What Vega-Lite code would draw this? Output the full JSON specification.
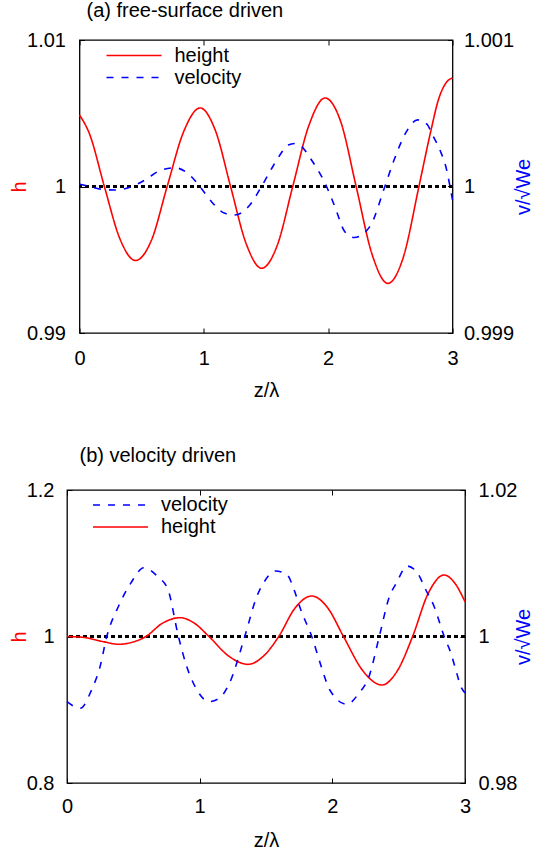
{
  "$schema": "https://vega.github.io/schema/vega-lite/v6.json",
  "padding": {"left": 8, "top": 0, "right": 0, "bottom": 0},
  "background": "white",
  "config": {
    "font": "Liberation Sans",
    "view": {"stroke": "black", "strokeWidth": 1.3},
    "axis": {"labelFontSize": 20, "titleFontSize": 20, "labelColor": "black", "titleFontWeight": "normal", "grid": false, "domain": false, "ticks": true, "tickColor": "black", "tickSize": -5, "tickWidth": 1, "labelFlush": false, "labelOverlap": false, "labelBound": false},
    "legend": {"orient": "none", "symbolType": "stroke", "symbolSize": 3025, "symbolStrokeWidth": 1.6, "labelFontSize": 20, "labelOffset": 12, "clipHeight": 21.5, "rowPadding": 0, "padding": 0, "labelColor": "black", "labelLimit": 0},
    "title": {"fontSize": 20, "fontWeight": "normal", "anchor": "start", "frame": "group", "color": "black", "baseline": "alphabetic"}
  },
  "spacing": 157,
  "bounds": "flush",
  "center": true,
  "resolve": {"scale": {"color": "independent", "strokeDash": "independent"}},
  "vconcat": [
    {
      "width": 373,
      "height": 293,
      "title": {"text": "(a) free-surface driven", "dx": 7, "offset": 9},
      "data": {"values": [
        {"z": 0.00, "value": 1.00488, "series": "height"},
        {"z": 0.08, "value": 1.00360, "series": "height"},
        {"z": 0.20, "value": 1.00000, "series": "height"},
        {"z": 0.325, "value": 0.99643, "series": "height"},
        {"z": 0.45, "value": 0.99495, "series": "height"},
        {"z": 0.578, "value": 0.99632, "series": "height"},
        {"z": 0.705, "value": 1.00000, "series": "height"},
        {"z": 0.838, "value": 1.00375, "series": "height"},
        {"z": 0.97, "value": 1.00536, "series": "height"},
        {"z": 1.093, "value": 1.00382, "series": "height"},
        {"z": 1.215, "value": 1.00000, "series": "height"},
        {"z": 1.34, "value": 0.99611, "series": "height"},
        {"z": 1.465, "value": 0.99442, "series": "height"},
        {"z": 1.59, "value": 0.99597, "series": "height"},
        {"z": 1.715, "value": 1.00000, "series": "height"},
        {"z": 1.845, "value": 1.00417, "series": "height"},
        {"z": 1.975, "value": 1.00604, "series": "height"},
        {"z": 2.10, "value": 1.00445, "series": "height"},
        {"z": 2.225, "value": 1.00000, "series": "height"},
        {"z": 2.352, "value": 0.99540, "series": "height"},
        {"z": 2.48, "value": 0.99339, "series": "height"},
        {"z": 2.605, "value": 0.99519, "series": "height"},
        {"z": 2.73, "value": 1.00000, "series": "height"},
        {"z": 2.826, "value": 1.00380, "series": "height"},
        {"z": 2.886, "value": 1.00590, "series": "height"},
        {"z": 2.95, "value": 1.00710, "series": "height"},
        {"z": 3.00, "value": 1.00741, "series": "height"},
        {"z": 0.00, "value": 1.000015, "series": "velocity"},
        {"z": 0.05, "value": 1.000006, "series": "velocity"},
        {"z": 0.15, "value": 0.999985, "series": "velocity"},
        {"z": 0.284, "value": 0.999976, "series": "velocity"},
        {"z": 0.405, "value": 0.999995, "series": "velocity"},
        {"z": 0.525, "value": 1.000044, "series": "velocity"},
        {"z": 0.646, "value": 1.000108, "series": "velocity"},
        {"z": 0.767, "value": 1.000128, "series": "velocity"},
        {"z": 0.887, "value": 1.000078, "series": "velocity"},
        {"z": 0.968, "value": 1.000000, "series": "velocity"},
        {"z": 1.062, "value": 0.999896, "series": "velocity"},
        {"z": 1.169, "value": 0.999817, "series": "velocity"},
        {"z": 1.249, "value": 0.999805, "series": "velocity"},
        {"z": 1.37, "value": 0.999874, "series": "velocity"},
        {"z": 1.464, "value": 1.000000, "series": "velocity"},
        {"z": 1.531, "value": 1.000101, "series": "velocity"},
        {"z": 1.60, "value": 1.000200, "series": "velocity"},
        {"z": 1.679, "value": 1.000283, "series": "velocity"},
        {"z": 1.73, "value": 1.000294, "series": "velocity"},
        {"z": 1.772, "value": 1.000283, "series": "velocity"},
        {"z": 1.866, "value": 1.000181, "series": "velocity"},
        {"z": 1.987, "value": 1.000000, "series": "velocity"},
        {"z": 2.054, "value": 0.999862, "series": "velocity"},
        {"z": 2.134, "value": 0.999691, "series": "velocity"},
        {"z": 2.21, "value": 0.999652, "series": "velocity"},
        {"z": 2.335, "value": 0.999726, "series": "velocity"},
        {"z": 2.456, "value": 1.000000, "series": "velocity"},
        {"z": 2.53, "value": 1.000181, "series": "velocity"},
        {"z": 2.625, "value": 1.000368, "series": "velocity"},
        {"z": 2.72, "value": 1.000455, "series": "velocity"},
        {"z": 2.80, "value": 1.000420, "series": "velocity"},
        {"z": 2.832, "value": 1.000363, "series": "velocity"},
        {"z": 2.899, "value": 1.000249, "series": "velocity"},
        {"z": 2.953, "value": 1.000113, "series": "velocity"},
        {"z": 2.98, "value": 1.000000, "series": "velocity"},
        {"z": 3.00, "value": 0.999908, "series": "velocity"}
      ]},
      "layer": [
        {
          "layer": [
            {
              "mark": {"type": "rule", "color": "black", "strokeDash": [3.5, 3.5], "strokeWidth": 1.3},
              "encoding": {"y": {"datum": 1, "type": "quantitative"}}
            },
            {
              "transform": [{"filter": "datum.series === 'height'"}],
              "mark": {"type": "line", "interpolate": "monotone", "strokeWidth": 1.6},
              "encoding": {
                "x": {"field": "z", "type": "quantitative", "scale": {"domain": [0, 3], "nice": false, "zero": false},
                      "axis": {"orient": "bottom", "values": [0, 1, 2, 3], "format": "d", "title": "z/λ", "titleY": 63, "titleBaseline": "alphabetic", "labelBaseline": "alphabetic", "labelPadding": 36}},
                "y": {"field": "value", "type": "quantitative", "scale": {"domain": [0.99, 1.01], "nice": false, "zero": false},
                      "axis": {"orient": "left", "values": [0.99, 1, 1.01], "format": "~g", "title": "h", "titleColor": "#ff0000", "titleAngle": -90, "titleX": -54, "titleBaseline": "alphabetic", "labelPadding": 19}},
                "color": {"field": "series", "type": "nominal", "scale": {"domain": ["height", "velocity"], "range": ["#ff0000", "#0000ff"]},
                          "legend": {"title": null, "legendX": 26, "legendY": 4.75}},
                "strokeDash": {"field": "series", "type": "nominal", "scale": {"domain": ["height", "velocity"], "range": [[1, 0], [7, 8]]},
                               "legend": {"title": null, "legendX": 26, "legendY": 4.75}}
              }
            }
          ]
        },
        {
          "transform": [{"filter": "datum.series === 'velocity'"}],
          "mark": {"type": "line", "interpolate": "monotone", "strokeWidth": 1.6},
          "encoding": {
            "x": {"field": "z", "type": "quantitative", "scale": {"domain": [0, 3], "nice": false, "zero": false},
                  "axis": {"orient": "top", "values": [0, 1, 2, 3], "labels": false, "title": null}},
            "y": {"field": "value", "type": "quantitative", "scale": {"domain": [0.999, 1.001], "nice": false, "zero": false},
                  "axis": {"orient": "right", "values": [0.999, 1, 1.001], "format": "~g", "title": "v/√We", "titleColor": "#0000ff", "titleAngle": -90, "titleX": 76.5, "titleBaseline": "alphabetic", "labelPadding": 16}},
            "color": {"field": "series", "type": "nominal", "scale": {"domain": ["height", "velocity"], "range": ["#ff0000", "#0000ff"]}},
            "strokeDash": {"field": "series", "type": "nominal", "scale": {"domain": ["height", "velocity"], "range": [[1, 0], [7, 8]]}}
          }
        }
      ],
      "resolve": {"scale": {"y": "independent"}, "axis": {"x": "independent"}}
    },
    {
      "width": 398,
      "height": 293,
      "title": {"text": "(b) velocity driven", "dx": 12.5, "offset": 14},
      "data": {"values": [
        {"z": 0.00, "value": 1.0000, "series": "height"},
        {"z": 0.12, "value": 0.9989, "series": "height"},
        {"z": 0.275, "value": 0.9929, "series": "height"},
        {"z": 0.39, "value": 0.98935, "series": "height"},
        {"z": 0.506, "value": 0.9929, "series": "height"},
        {"z": 0.595, "value": 1.0000, "series": "height"},
        {"z": 0.72, "value": 1.0182, "series": "height"},
        {"z": 0.852, "value": 1.0257, "series": "height"},
        {"z": 0.96, "value": 1.0182, "series": "height"},
        {"z": 1.07, "value": 1.0000, "series": "height"},
        {"z": 1.22, "value": 0.9731, "series": "height"},
        {"z": 1.365, "value": 0.9620, "series": "height"},
        {"z": 1.48, "value": 0.9731, "series": "height"},
        {"z": 1.596, "value": 1.0000, "series": "height"},
        {"z": 1.72, "value": 1.0391, "series": "height"},
        {"z": 1.845, "value": 1.0553, "series": "height"},
        {"z": 1.965, "value": 1.0391, "series": "height"},
        {"z": 2.084, "value": 1.0000, "series": "height"},
        {"z": 2.23, "value": 0.9532, "series": "height"},
        {"z": 2.374, "value": 0.9338, "series": "height"},
        {"z": 2.49, "value": 0.9532, "series": "height"},
        {"z": 2.605, "value": 1.0000, "series": "height"},
        {"z": 2.724, "value": 1.0594, "series": "height"},
        {"z": 2.843, "value": 1.0840, "series": "height"},
        {"z": 2.92, "value": 1.0736, "series": "height"},
        {"z": 3.00, "value": 1.0475, "series": "height"},
        {"z": 0.00, "value": 0.9911, "series": "velocity"},
        {"z": 0.10, "value": 0.9902, "series": "velocity"},
        {"z": 0.185, "value": 0.9927, "series": "velocity"},
        {"z": 0.249, "value": 0.99588, "series": "velocity"},
        {"z": 0.30, "value": 1.0000, "series": "velocity"},
        {"z": 0.39, "value": 1.0042, "series": "velocity"},
        {"z": 0.48, "value": 1.00726, "series": "velocity"},
        {"z": 0.58, "value": 1.00939, "series": "velocity"},
        {"z": 0.685, "value": 1.00816, "series": "velocity"},
        {"z": 0.762, "value": 1.00635, "series": "velocity"},
        {"z": 0.84, "value": 1.0000, "series": "velocity"},
        {"z": 0.903, "value": 0.99588, "series": "velocity"},
        {"z": 0.98, "value": 0.9927, "series": "velocity"},
        {"z": 1.07, "value": 0.9911, "series": "velocity"},
        {"z": 1.147, "value": 0.99156, "series": "velocity"},
        {"z": 1.224, "value": 0.99361, "series": "velocity"},
        {"z": 1.34, "value": 1.0000, "series": "velocity"},
        {"z": 1.43, "value": 1.00543, "series": "velocity"},
        {"z": 1.48, "value": 1.00726, "series": "velocity"},
        {"z": 1.57, "value": 1.00894, "series": "velocity"},
        {"z": 1.66, "value": 1.00839, "series": "velocity"},
        {"z": 1.712, "value": 1.00635, "series": "velocity"},
        {"z": 1.763, "value": 1.00362, "series": "velocity"},
        {"z": 1.845, "value": 1.0000, "series": "velocity"},
        {"z": 1.917, "value": 0.99588, "series": "velocity"},
        {"z": 1.981, "value": 0.9927, "series": "velocity"},
        {"z": 2.11, "value": 0.99074, "series": "velocity"},
        {"z": 2.20, "value": 0.99225, "series": "velocity"},
        {"z": 2.276, "value": 0.99451, "series": "velocity"},
        {"z": 2.354, "value": 1.0000, "series": "velocity"},
        {"z": 2.43, "value": 1.00543, "series": "velocity"},
        {"z": 2.482, "value": 1.00726, "series": "velocity"},
        {"z": 2.564, "value": 1.00962, "series": "velocity"},
        {"z": 2.643, "value": 1.00863, "series": "velocity"},
        {"z": 2.705, "value": 1.00635, "series": "velocity"},
        {"z": 2.768, "value": 1.00407, "series": "velocity"},
        {"z": 2.843, "value": 1.0000, "series": "velocity"},
        {"z": 2.894, "value": 0.99771, "series": "velocity"},
        {"z": 2.931, "value": 0.99543, "series": "velocity"},
        {"z": 2.969, "value": 0.99315, "series": "velocity"},
        {"z": 3.00, "value": 0.99229, "series": "velocity"}
      ]},
      "layer": [
        {
          "layer": [
            {
              "mark": {"type": "rule", "color": "black", "strokeDash": [3.5, 3.5], "strokeWidth": 1.3},
              "encoding": {"y": {"datum": 1, "type": "quantitative"}}
            },
            {
              "transform": [{"filter": "datum.series === 'height'"}],
              "mark": {"type": "line", "interpolate": "monotone", "strokeWidth": 1.6},
              "encoding": {
                "x": {"field": "z", "type": "quantitative", "scale": {"domain": [0, 3], "nice": false, "zero": false},
                      "axis": {"orient": "bottom", "values": [0, 1, 2, 3], "format": "d", "title": "z/λ", "titleY": 63, "titleBaseline": "alphabetic", "labelBaseline": "alphabetic", "labelPadding": 34}},
                "y": {"field": "value", "type": "quantitative", "scale": {"domain": [0.8, 1.2], "nice": false, "zero": false},
                      "axis": {"orient": "left", "values": [0.8, 1, 1.2], "format": "~g", "title": "h", "titleColor": "#ff0000", "titleAngle": -90, "titleX": -41.5, "titleBaseline": "alphabetic", "labelPadding": 18}},
                "color": {"field": "series", "type": "nominal", "scale": {"domain": ["velocity", "height"], "range": ["#0000ff", "#ff0000"]},
                          "legend": {"title": null, "legendX": 25, "legendY": 4.25}},
                "strokeDash": {"field": "series", "type": "nominal", "scale": {"domain": ["velocity", "height"], "range": [[7, 8], [1, 0]]},
                               "legend": {"title": null, "legendX": 25, "legendY": 4.25}}
              }
            }
          ]
        },
        {
          "transform": [{"filter": "datum.series === 'velocity'"}],
          "mark": {"type": "line", "interpolate": "monotone", "strokeWidth": 1.6},
          "encoding": {
            "x": {"field": "z", "type": "quantitative", "scale": {"domain": [0, 3], "nice": false, "zero": false},
                  "axis": {"orient": "top", "values": [0, 1, 2, 3], "labels": false, "title": null}},
            "y": {"field": "value", "type": "quantitative", "scale": {"domain": [0.98, 1.02], "nice": false, "zero": false},
                  "axis": {"orient": "right", "values": [0.98, 1, 1.02], "format": "~g", "title": "v/√We", "titleColor": "#0000ff", "titleAngle": -90, "titleX": 64, "titleBaseline": "alphabetic", "labelPadding": 18}},
            "color": {"field": "series", "type": "nominal", "scale": {"domain": ["velocity", "height"], "range": ["#0000ff", "#ff0000"]}},
            "strokeDash": {"field": "series", "type": "nominal", "scale": {"domain": ["velocity", "height"], "range": [[7, 8], [1, 0]]}}
          }
        }
      ],
      "resolve": {"scale": {"y": "independent"}, "axis": {"x": "independent"}}
    }
  ]
}
